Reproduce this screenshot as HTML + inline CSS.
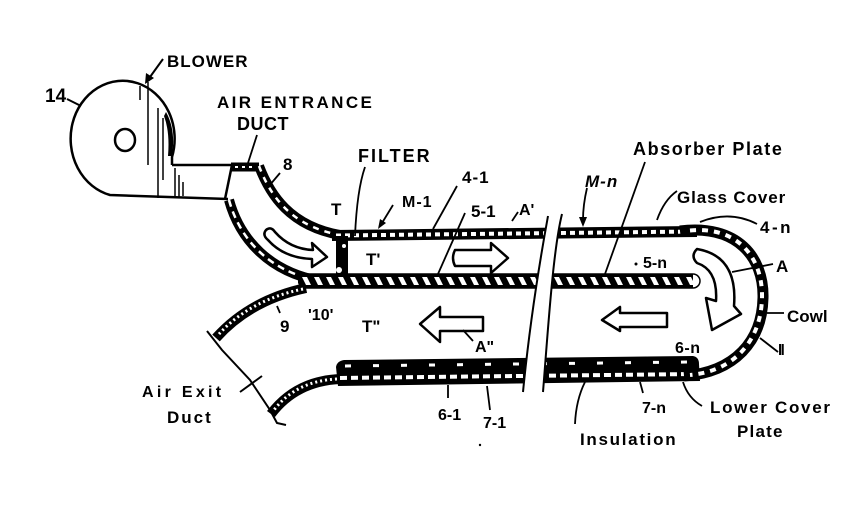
<!DOCTYPE html>
<html><head><meta charset="utf-8"><style>
html,body{margin:0;padding:0;background:#fff;}
svg{display:block;}
text{font-family:"Liberation Sans",sans-serif;font-weight:bold;fill:#000;}
</style></head><body>
<svg width="856" height="510" viewBox="0 0 856 510" xmlns="http://www.w3.org/2000/svg">
<defs>
<pattern id="abs" patternUnits="userSpaceOnUse" x="0" y="274" width="12" height="14">
<rect width="12" height="14" fill="#000"/>
<path d="M2 3 L7 3 L11 11 L6 11 Z" fill="#fff"/>
</pattern>
</defs>
<rect width="856" height="510" fill="#fff"/>

<!-- Blower -->
<path d="M172 165 L172 157 A52 58 0 1 0 110 195 L228 199" fill="none" stroke="#000" stroke-width="2.5"/>
<line x1="172" y1="165" x2="233" y2="165" stroke="#000" stroke-width="2.5"/>
<ellipse cx="125" cy="140" rx="10" ry="11" fill="none" stroke="#000" stroke-width="2.5"/>
<g stroke="#000" stroke-width="1.5">
<line x1="140" y1="86" x2="140" y2="100"/>
<line x1="148" y1="82" x2="148" y2="165"/>
<line x1="158" y1="108" x2="158" y2="198"/>
<line x1="163" y1="118" x2="163" y2="180"/>
<line x1="175" y1="168" x2="175" y2="198"/>
<line x1="179" y1="175" x2="179" y2="198"/>
<line x1="183" y1="182" x2="183" y2="196"/>
</g>
<path d="M166 112 Q176 130 172 156 L168 156 Q170 132 164 116 Z" fill="#000"/>
<!-- 14 leader -->
<line x1="67" y1="99" x2="81" y2="106" stroke="#000" stroke-width="2"/>
<!-- BLOWER arrow -->
<line x1="163" y1="59" x2="150" y2="77" stroke="#000" stroke-width="2"/>
<polygon points="145,84 146,73 154,78" fill="#000"/>

<!-- Entrance duct bend -->
<line x1="232" y1="165" x2="225" y2="199" stroke="#000" stroke-width="2.5"/>
<path d="M231 167 L259 167" stroke="#000" stroke-width="9"/>
<path d="M235 167 L256 167" stroke="#fff" stroke-width="2" stroke-dasharray="3 4"/>
<path d="M259 166 C270 195 290 226 340 235" fill="none" stroke="#000" stroke-width="10"/>
<path d="M259 166 C270 195 290 226 340 235" fill="none" stroke="#fff" stroke-width="2.5" stroke-dasharray="6 6"/>
<path d="M229 200 C240 240 270 272 320 281" fill="none" stroke="#000" stroke-width="10"/>
<path d="M229 200 C240 240 270 272 320 281" fill="none" stroke="#fff" stroke-width="2.5" stroke-dasharray="7 5"/>

<!-- Glass cover (upper wall) -->
<polygon points="332,230 697,226 697,237 332,241" fill="#000"/>
<line x1="336" y1="235.5" x2="695" y2="231.5" stroke="#fff" stroke-width="4" stroke-dasharray="5 4"/>

<!-- Absorber plate -->
<rect x="298" y="274" width="395" height="14" fill="url(#abs)"/>
<path d="M298 274 L693 274 A7 7 0 0 1 693 288 L298 288" fill="none" stroke="#000" stroke-width="1.5"/>

<!-- Filter -->
<rect x="336" y="236" width="12" height="41" fill="#000"/>
<circle cx="339" cy="270" r="3" fill="#fff"/>
<circle cx="344" cy="246" r="2" fill="#fff"/>

<!-- Exit duct walls -->
<path d="M306 288 Q250 300 216 338" fill="none" stroke="#000" stroke-width="10"/>
<path d="M303 289 Q250 300 219 334" fill="none" stroke="#fff" stroke-width="3" stroke-dasharray="2 3"/>
<path d="M340 379 Q296 381 271 414" fill="none" stroke="#000" stroke-width="10"/>
<path d="M337 379 Q296 381 274 410" fill="none" stroke="#fff" stroke-width="3" stroke-dasharray="2 3"/>
<!-- Exit end lines/leader -->
<path d="M207 331 L222 350 L250 380 L270 410 L277 423 L286 425" fill="none" stroke="#000" stroke-width="2"/>
<line x1="240" y1="392" x2="262" y2="376" stroke="#000" stroke-width="2"/>

<!-- Insulation + lower cover plate -->
<path d="M344 360 L693 356 Q699 357 699 364 L700 381 L338 386 L336 367 Q337 361 344 360 Z" fill="#000"/>
<line x1="345" y1="366" x2="690" y2="362" stroke="#fff" stroke-width="3" stroke-dasharray="6 22"/>
<line x1="340" y1="378" x2="695" y2="374" stroke="#fff" stroke-width="4" stroke-dasharray="7 4"/>

<!-- Cowl -->
<path d="M680 231 C737 224 764 257 763 298 C762 341 735 372 684 376" fill="none" stroke="#000" stroke-width="11"/>
<path d="M690 230.5 C737 226 763 257 762 298 C761 340 735 371 690 375" fill="none" stroke="#fff" stroke-width="4" stroke-dasharray="6 6"/>

<!-- Break -->
<path d="M548 216 C540 260 530 320 523 392 L543 392 C548 330 553 250 562 214 Z" fill="#fff"/>
<path d="M548 216 C540 260 530 320 523 392" fill="none" stroke="#000" stroke-width="2"/>
<path d="M562 214 C553 250 548 330 543 392" fill="none" stroke="#000" stroke-width="2"/>

<!-- Arrows -->
<path d="M266 230 Q271 226 275 232 Q290 249 313 250 L312 243 L327 257 L312 267 L312 259 Q284 258 268 240 Q262 235 266 230 Z" fill="#fff" stroke="#000" stroke-width="2.5" stroke-linejoin="round"/>
<path d="M455 250 L491 250 L491 243 L508 258 L491 273 L491 266 L455 266 Q451 258 455 250 Z" fill="#fff" stroke="#000" stroke-width="2.5" stroke-linejoin="round"/>
<path d="M420 324 L440 307 L440 317 L483 317 L483 331 L440 331 L440 342 Z" fill="#fff" stroke="#000" stroke-width="2.5" stroke-linejoin="round"/>
<path d="M602 320 L620 307 L620 313 L667 313 L667 327 L620 327 L620 331 Z" fill="#fff" stroke="#000" stroke-width="2.5" stroke-linejoin="round"/>
<path d="M697 249 Q738 256 734 306 L741 314 L712 330 L706 298 L716 301 Q718 270 697 263 Q690 256 697 249 Z" fill="#fff" stroke="#000" stroke-width="2.5" stroke-linejoin="round"/>

<!-- Leaders -->
<g fill="none" stroke="#000" stroke-width="1.8">
<line x1="257" y1="135" x2="248" y2="163"/>
<line x1="280" y1="173" x2="269" y2="186"/>
<path d="M365 167 Q357 190 355 236"/>
<line x1="393" y1="205" x2="382" y2="223"/>
<line x1="457" y1="186" x2="433" y2="229"/>
<line x1="465" y1="213" x2="438" y2="274"/>
<line x1="518" y1="212" x2="512" y2="221"/>
<path d="M587 188 Q583 205 583 220"/>
<line x1="645" y1="162" x2="605" y2="274"/>
<path d="M677 191 Q664 200 657 220"/>
<path d="M757 224 Q730 210 700 222"/>
<line x1="732" y1="272" x2="773" y2="264"/>
<line x1="767" y1="313" x2="784" y2="313"/>
<line x1="760" y1="338" x2="778" y2="352"/>
<path d="M702 406 Q688 398 683 382"/>
<line x1="643" y1="393" x2="640" y2="382"/>
<path d="M575 424 Q576 400 585 382"/>
<line x1="448" y1="398" x2="448" y2="385"/>
<line x1="490" y1="410" x2="487" y2="386"/>
<line x1="463" y1="330" x2="473" y2="341"/>
<line x1="277" y1="306" x2="280" y2="313"/>
</g>
<polygon points="378,229 380,219 386,223" fill="#000"/>
<polygon points="583,227 579,217 587,217" fill="#000"/>
<circle cx="636" cy="264" r="1.5" fill="#000"/>
<circle cx="480" cy="445" r="1.2" fill="#000"/>

<!-- Labels -->
<text x="45" y="102" font-size="19">14</text>
<text x="167" y="67" font-size="17" letter-spacing="1">BLOWER</text>
<text x="217" y="108" font-size="17" letter-spacing="2.4">AIR ENTRANCE</text>
<text x="237" y="130" font-size="18" letter-spacing="0.5">DUCT</text>
<text x="283" y="170" font-size="17">8</text>
<text x="358" y="162" font-size="18" letter-spacing="2">FILTER</text>
<text x="331" y="215" font-size="17">T</text>
<text x="402" y="207" font-size="16" letter-spacing="1">M-1</text>
<text x="366" y="265" font-size="17">T'</text>
<text x="462" y="183" font-size="17" letter-spacing="1">4-1</text>
<text x="471" y="217" font-size="17" letter-spacing="0">5-1</text>
<text x="519" y="215" font-size="16">A'</text>
<text x="585" y="187" font-size="17" font-style="italic" letter-spacing="1">M-n</text>
<text x="633" y="155" font-size="18" letter-spacing="1.6">Absorber Plate</text>
<text x="677" y="203" font-size="17" letter-spacing="0.9">Glass Cover</text>
<text x="760" y="233" font-size="17" letter-spacing="2.5">4-n</text>
<text x="643" y="268" font-size="16">5-n</text>
<text x="776" y="272" font-size="17">A</text>
<text x="787" y="322" font-size="17">Cowl</text>
<text x="778" y="355" font-size="15" letter-spacing="-1.5">ll</text>
<text x="675" y="353" font-size="16" letter-spacing="0.5">6-n</text>
<text x="710" y="413" font-size="17" letter-spacing="1.7">Lower Cover</text>
<text x="737" y="437" font-size="17" letter-spacing="1.2">Plate</text>
<text x="642" y="413" font-size="16">7-n</text>
<text x="580" y="445" font-size="17" letter-spacing="1.7">Insulation</text>
<text x="438" y="420" font-size="16">6-1</text>
<text x="483" y="428" font-size="16">7-1</text>
<text x="362" y="332" font-size="17">T"</text>
<text x="475" y="352" font-size="16">A"</text>
<text x="308" y="320" font-size="16">'10'</text>
<text x="280" y="332" font-size="17">9</text>
<text x="142" y="397" font-size="16" letter-spacing="3.3">Air Exit</text>
<text x="167" y="423" font-size="17" letter-spacing="2">Duct</text>
</svg>
</body></html>
